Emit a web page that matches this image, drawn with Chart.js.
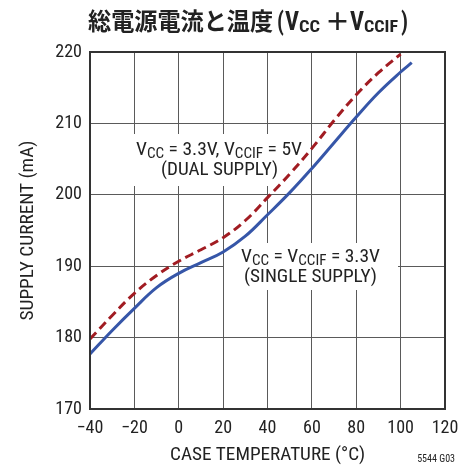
<!DOCTYPE html>
<html><head><meta charset="utf-8">
<script src="https://cdn.jsdelivr.net/npm/chart.js@4"></script>
<style>html,body{margin:0;padding:0;background:#fff}#wrap{width:472px;height:467px;position:relative}</style>
</head><body><div id="wrap"><canvas id="c" width="472" height="467"></canvas></div>
<script>
// ---- data ----
const tempSingle = [-40,-30,-20,-10,0,10,20,30,40,50,60,70,80,90,100,105];
const currentSingle = [177.7,181.0,184.1,187.0,189.0,190.5,192.0,194.2,197.2,200.3,203.7,207.3,210.9,214.3,217.2,218.5];
const tempDual = [-40,-30,-20,-10,0,10,20,30,40,50,60,70,80,90,100];
const currentDual = [179.8,183.1,186.2,188.7,190.7,192.3,194.0,196.4,199.6,202.9,206.5,210.4,214.0,217.1,219.7];
const xTickValues = [-40,-20,0,20,40,60,80,100,120];
const yTickValues = [170,180,190,200,210,220];
const titleText = '総電源電流と温度';
const xTitle = 'CASE TEMPERATURE (°C)';
const yTitle = 'SUPPLY CURRENT (mA)';
const figId = '5544 G03';

const NARROW = "'Liberation Sans Narrow','Roboto Condensed','Liberation Sans',Arial,sans-serif";
const CJK = "'Noto Sans CJK JP','Noto Sans CJK SC',sans-serif";
const TXT = '#222';

function fitText(ctx, t, font, x, y, w, align) {
  ctx.save();
  ctx.font = font;
  const m = ctx.measureText(t).width;
  const sx = w ? w / m : 1;
  ctx.translate(x, y);
  ctx.scale(sx, 1);
  ctx.textBaseline = 'alphabetic';
  ctx.textAlign = 'left';
  ctx.fillText(t, align === 'center' ? -m / 2 : 0, 0);
  ctx.restore();
}
function rich(ctx, segs, cx, y, w) {
  ctx.save();
  let tot = 0;
  segs.forEach(s => { ctx.font = s.f; s.w = ctx.measureText(s.t).width; tot += s.w; });
  const sx = w / tot;
  ctx.translate(cx, y); ctx.scale(sx, 1);
  let x = -tot / 2;
  ctx.textBaseline = 'alphabetic'; ctx.textAlign = 'left';
  segs.forEach(s => { ctx.font = s.f; ctx.fillText(s.t, x, s.dy || 0); x += s.w; });
  ctx.restore();
}

const decor = {
  id: 'decor',
  beforeDatasetsDraw(chart) {
    const ctx = chart.ctx;
    ctx.save();
    ctx.fillStyle = '#fff';
    ctx.fillRect(128, 134, 180, 52);
    ctx.fillRect(224, 243, 174, 47);
    ctx.fillStyle = TXT;
    const M = '18px ' + NARROW, S = '14px ' + NARROW;
    rich(ctx, [{t:'V',f:M},{t:'CC',f:S,dy:3},{t:' = 3.3V, V',f:M},{t:'CCIF',f:S,dy:3},{t:' = 5V',f:M}], 219, 155, 166);
    fitText(ctx, '(DUAL SUPPLY)', M, 219.5, 175, 117, 'center');
    rich(ctx, [{t:'V',f:M},{t:'CC',f:S,dy:3},{t:' = V',f:M},{t:'CCIF',f:S,dy:3},{t:' = 3.3V',f:M}], 310.5, 261.5, 139);
    fitText(ctx, '(SINGLE SUPPLY)', M, 310.5, 281.5, 133, 'center');
    ctx.restore();
  },
  afterDraw(chart) {
    const ctx = chart.ctx, a = chart.chartArea;
    ctx.save();
    ctx.strokeStyle = '#333'; ctx.lineWidth = 2;
    ctx.strokeRect(a.left, a.top, a.right - a.left, a.bottom - a.top);
    ctx.fillStyle = TXT;
    // title
    const TB = 'bold 24px ' + CJK, LB = 'bold 26px ' + NARROW, SB = 'bold 17px ' + NARROW;
    fitText(ctx, titleText, TB, 88, 30, 185);
    fitText(ctx, '(', LB, 277, 30, 7);
    fitText(ctx, 'V', LB, 285, 30, 14);
    fitText(ctx, 'CC', SB, 299, 31.5, 21);
    fitText(ctx, '\uFF0B', 'bold 24px ' + CJK, 325, 30, 25);
    fitText(ctx, 'V', LB, 350, 30, 14);
    fitText(ctx, 'CCIF', SB, 364, 31.5, 34);
    fitText(ctx, ')', LB, 401, 30, 7);
    // axis titles
    fitText(ctx, xTitle, '18px ' + NARROW, 267.5, 460, 195, 'center');
    ctx.save();
    ctx.translate(33, 230.5); ctx.rotate(-Math.PI / 2);
    fitText(ctx, yTitle, '18px ' + NARROW, 0, 0, 180, 'center');
    ctx.restore();
    ctx.font = '10px ' + NARROW; ctx.textAlign = 'right';
    ctx.fillText(figId, 455, 462);
    ctx.restore();
  }
};

const ptsSingle = tempSingle.map((t, i) => ({x: t, y: currentSingle[i]}));
const ptsDual = tempDual.map((t, i) => ({x: t, y: currentDual[i]}));

new Chart(document.getElementById('c'), {
  type: 'line',
  data: {
    datasets: [
      {label: 'Single', data: ptsSingle, borderColor: '#3656a8', borderWidth: 3, pointRadius: 0, tension: 0.4, fill: false},
      {label: 'Dual', data: ptsDual, borderColor: '#a11c22', borderWidth: 3, borderDash: [9, 5], pointRadius: 0, tension: 0.4, fill: false}
    ]
  },
  options: {
    responsive: false, animation: false, devicePixelRatio: 1,
    layout: {padding: {left: 0, top: 52, right: 27, bottom: 0}},
    plugins: {legend: {display: false}, tooltip: {enabled: false}, title: {display: false}},
    scales: {
      x: {
        type: 'linear', min: -40, max: 120,
        afterBuildTicks: s => { s.ticks = xTickValues.map(v => ({value: v})); },
        afterFit: s => { s.height = 58; },
        grid: {color: '#5a5a5a', lineWidth: 1, drawTicks: false},
        border: {display: false},
        ticks: {padding: 9, color: TXT, font: {family: NARROW, size: 18}, maxRotation: 0, autoSkip: false,
          callback: v => String(v).replace('-', '\u2212')}
      },
      y: {
        type: 'linear', min: 170, max: 220,
        afterBuildTicks: s => { s.ticks = yTickValues.map(v => ({value: v})); },
        afterFit: s => { s.width = 90; },
        grid: {color: '#5a5a5a', lineWidth: 1, drawTicks: false},
        border: {display: false},
        ticks: {padding: 8, color: TXT, font: {family: NARROW, size: 18}, autoSkip: false}
      }
    }
  },
  plugins: [decor]
});
</script>
</body></html>
